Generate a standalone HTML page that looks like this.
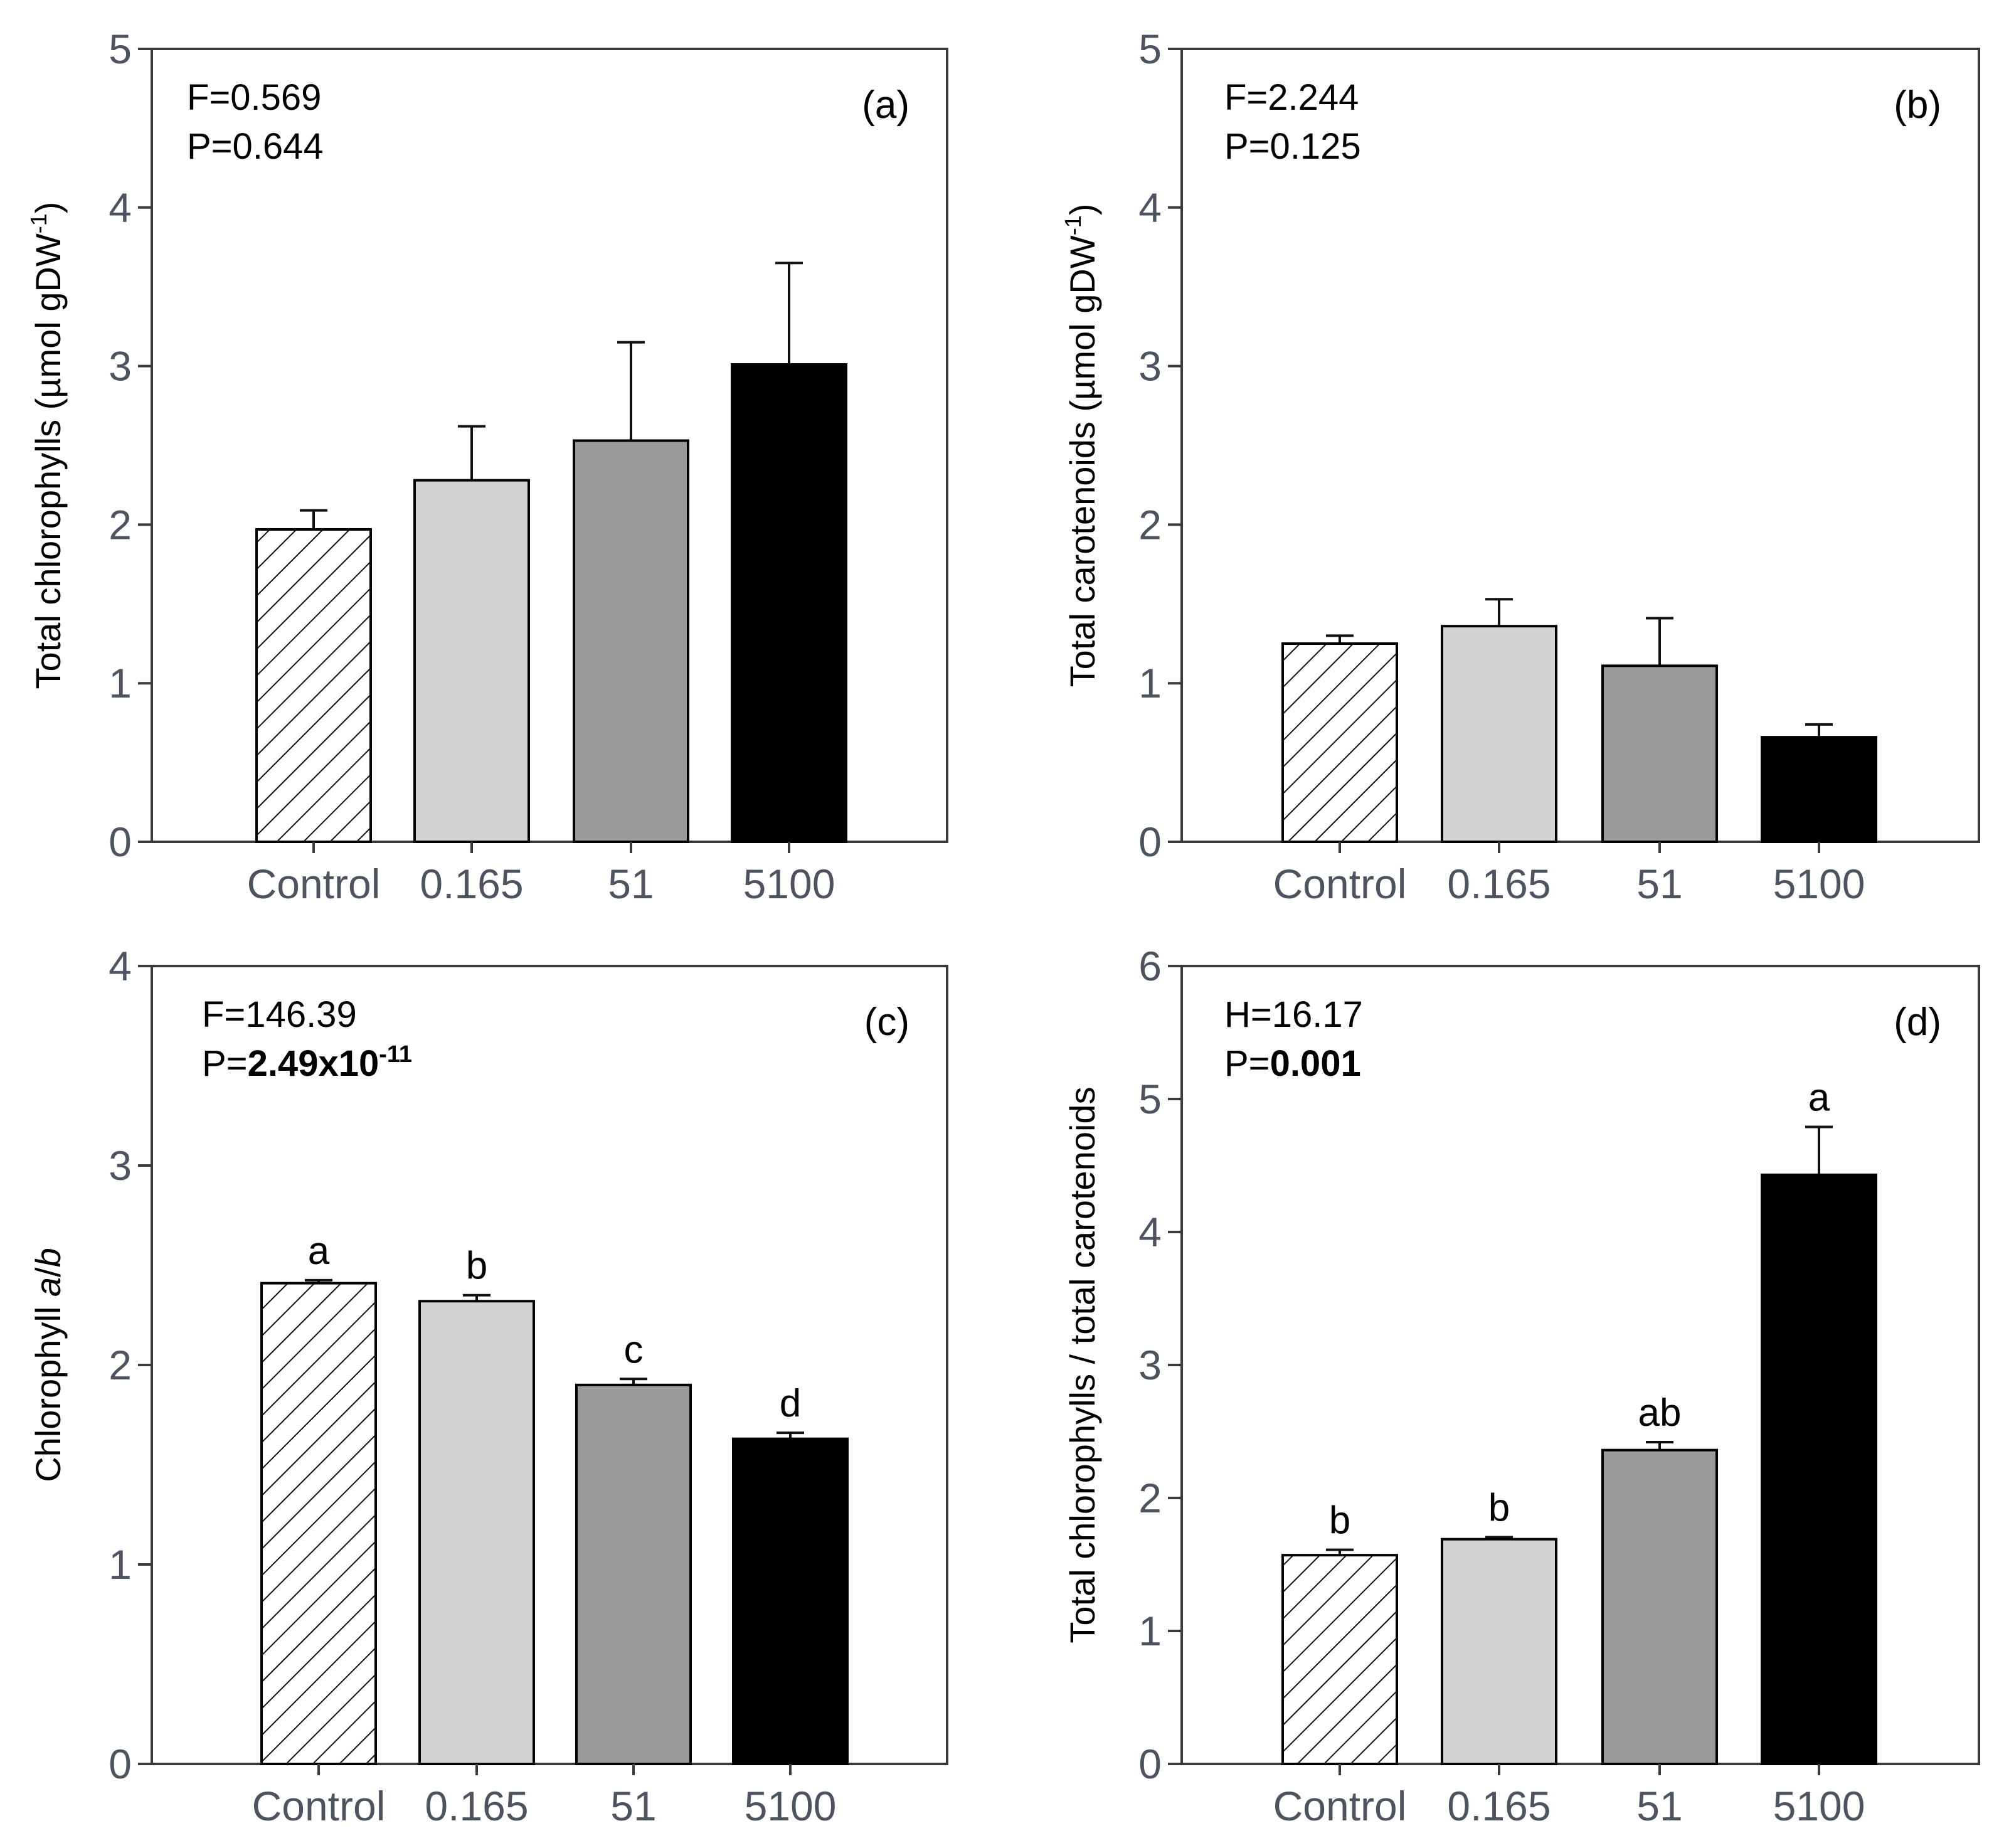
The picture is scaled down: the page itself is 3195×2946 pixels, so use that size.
<!DOCTYPE html>
<html><head><meta charset="utf-8">
<style>
html,body{margin:0;padding:0;background:#fff;}
svg{display:block;font-family:"Liberation Sans",Arial,sans-serif;}
</style></head>
<body>
<svg id="fig" width="3195" height="2946" viewBox="0 0 3195 2946" xmlns="http://www.w3.org/2000/svg">
<defs>
<pattern id="hatch" patternUnits="userSpaceOnUse" width="30" height="30" patternTransform="rotate(45)">
<rect width="30" height="30" fill="#fff"/>
<line x1="0" y1="0" x2="0" y2="30" stroke="#111" stroke-width="4"/>
</pattern>
</defs>
</svg>
<script>
const categories = ["Control","0.165","51","5100"];
const valuesA = [1.97, 2.28, 2.53, 3.01];
const errorsA = [0.12, 0.34, 0.62, 0.64];
const valuesB = [1.25, 1.36, 1.11, 0.66];
const errorsB = [0.05, 0.17, 0.30, 0.08];
const valuesC = [2.41, 2.32, 1.90, 1.63];
const errorsC = [0.015, 0.03, 0.03, 0.03];
const lettersC = ["a","b","c","d"];
const valuesD = [1.57, 1.69, 2.36, 4.43];
const errorsD = [0.04, 0.015, 0.06, 0.36];
const lettersD = ["b","b","ab","a"];
const ticksAB = [0,1,2,3,4,5];
const ticksC = [0,1,2,3,4];
const ticksD = [0,1,2,3,4,5,6];

const NS = "http://www.w3.org/2000/svg";
const svg = document.getElementById("fig");
const fills = ["url(#hatch)","#d4d4d4","#9a9a9a","#000"];

function mk(tag, attrs, parent){
  const e = document.createElementNS(NS, tag);
  for (const k in attrs) e.setAttribute(k, attrs[k]);
  (parent||svg).appendChild(e);
  return e;
}

function panel(cfg){
  const g = mk("g", {});
  
  
  const L=cfg.left, R=cfg.right, T=cfg.top, B=cfg.bottom;
  const ymax = cfg.ticks[cfg.ticks.length-1];
  const y = v => B - (v/ymax)*(B-T);
  const xc = i => cfg.centers[i];
  const frame = mk("rect", {x:L, y:T, width:R-L, height:B-T, fill:"none", stroke:"#3a3a3a", "stroke-width":4}, g);
  
  
  cfg.ticks.forEach(t => {
    const ln = mk("line", {x1:L-22, x2:L, y1:y(t), y2:y(t), stroke:"#3a3a3a", "stroke-width":4}, g);
    
    
    const tx = mk("text", {x:L-32, y:y(t)+23, "text-anchor":"end", "font-size":66, fill:"#4d5360"}, g);
    
    
    tx.textContent = t;
  });
  cfg.values.forEach((v,i) => {
    const bw = 182;
    const et = y(v + cfg.errors[i]);
    const el = mk("line", {x1:xc(i), x2:xc(i), y1:y(v), y2:et, stroke:"#111", "stroke-width":4}, g);
    
    
    const ec = mk("line", {x1:xc(i)-22, x2:xc(i)+22, y1:et, y2:et, stroke:"#111", "stroke-width":4}, g);
    
    
    const r = mk("rect", {x:xc(i)-bw/2, y:y(v), width:bw, height:B-y(v), fill:fills[i], stroke:"#000", "stroke-width":4}, g);
    
    
    const xt = mk("line", {x1:xc(i), x2:xc(i), y1:B, y2:B+18, stroke:"#3a3a3a", "stroke-width":4}, g);
    
    
    const xl = mk("text", {x:xc(i), y:B+90, "text-anchor":"middle", "font-size":66, fill:"#4d5360"}, g);
    
    
    xl.textContent = categories[i];
    if (cfg.letters){
      const lt = mk("text", {x:xc(i), y:et-26, "text-anchor":"middle", "font-size":62, fill:"#000"}, g);
      
      
      lt.textContent = cfg.letters[i];
    }
  });
  const yt = mk("text", {x:0, y:0, "text-anchor":"middle", "font-size":56, fill:"#000",
    transform:`translate(${cfg.titleX},${(T+B)/2}) rotate(-90)`}, g);
  
  
  yt.innerHTML = cfg.title;
  const s1 = mk("text", {x:cfg.statX, y:T+97, "font-size":58, fill:"#000"}, g);
  
  
  s1.textContent = cfg.stat1;
  const s2 = mk("text", {x:cfg.statX, y:T+175, "font-size":58, fill:"#000"}, g);
  
  
  s2.innerHTML = cfg.stat2;
  const pl = mk("text", {x:R-60, y:T+110, "text-anchor":"end", "font-size":62, fill:"#000"}, g);
  
  
  pl.textContent = cfg.label;
}

const topT=78, topB=1342, botT=1540, botB=2812;
const lx=[500,752,1006,1258], lxc=[508,760,1010,1260], rx=[2136,2390,2646,2900];

panel({name:"panel-a", left:242, right:1510, top:topT, bottom:topB, ticks:ticksAB, values:valuesA, errors:errorsA, centers:lx,
  title:'Total chlorophylls (µmol gDW<tspan dy="-22" font-size="36">-1</tspan><tspan dy="22">)</tspan>', titleX:96,
  statX:298, stat1:"F=0.569", stat2:"P=0.644", label:"(a)"});
panel({name:"panel-b", left:1884, right:3155, top:topT, bottom:topB, ticks:ticksAB, values:valuesB, errors:errorsB, centers:rx,
  title:'Total carotenoids (µmol gDW<tspan dy="-22" font-size="36">-1</tspan><tspan dy="22">)</tspan>', titleX:1745,
  statX:1952, stat1:"F=2.244", stat2:"P=0.125", label:"(b)"});
panel({name:"panel-c", left:242, right:1510, top:botT, bottom:botB, ticks:ticksC, values:valuesC, errors:errorsC, centers:lxc, letters:lettersC,
  title:'Chlorophyll <tspan font-style="italic">a</tspan>/<tspan font-style="italic">b</tspan>', titleX:96,
  statX:322, stat1:"F=146.39", stat2:'P=<tspan font-weight="bold">2.49x10</tspan><tspan font-weight="bold" dy="-22" font-size="38">-11</tspan>', label:"(c)"});
panel({name:"panel-d", left:1884, right:3155, top:botT, bottom:botB, ticks:ticksD, values:valuesD, errors:errorsD, centers:rx, letters:lettersD,
  title:'Total chlorophylls / total carotenoids', titleX:1745,
  statX:1952, stat1:"H=16.17", stat2:'P=<tspan font-weight="bold">0.001</tspan>', label:"(d)"});
</script>
</body></html>
